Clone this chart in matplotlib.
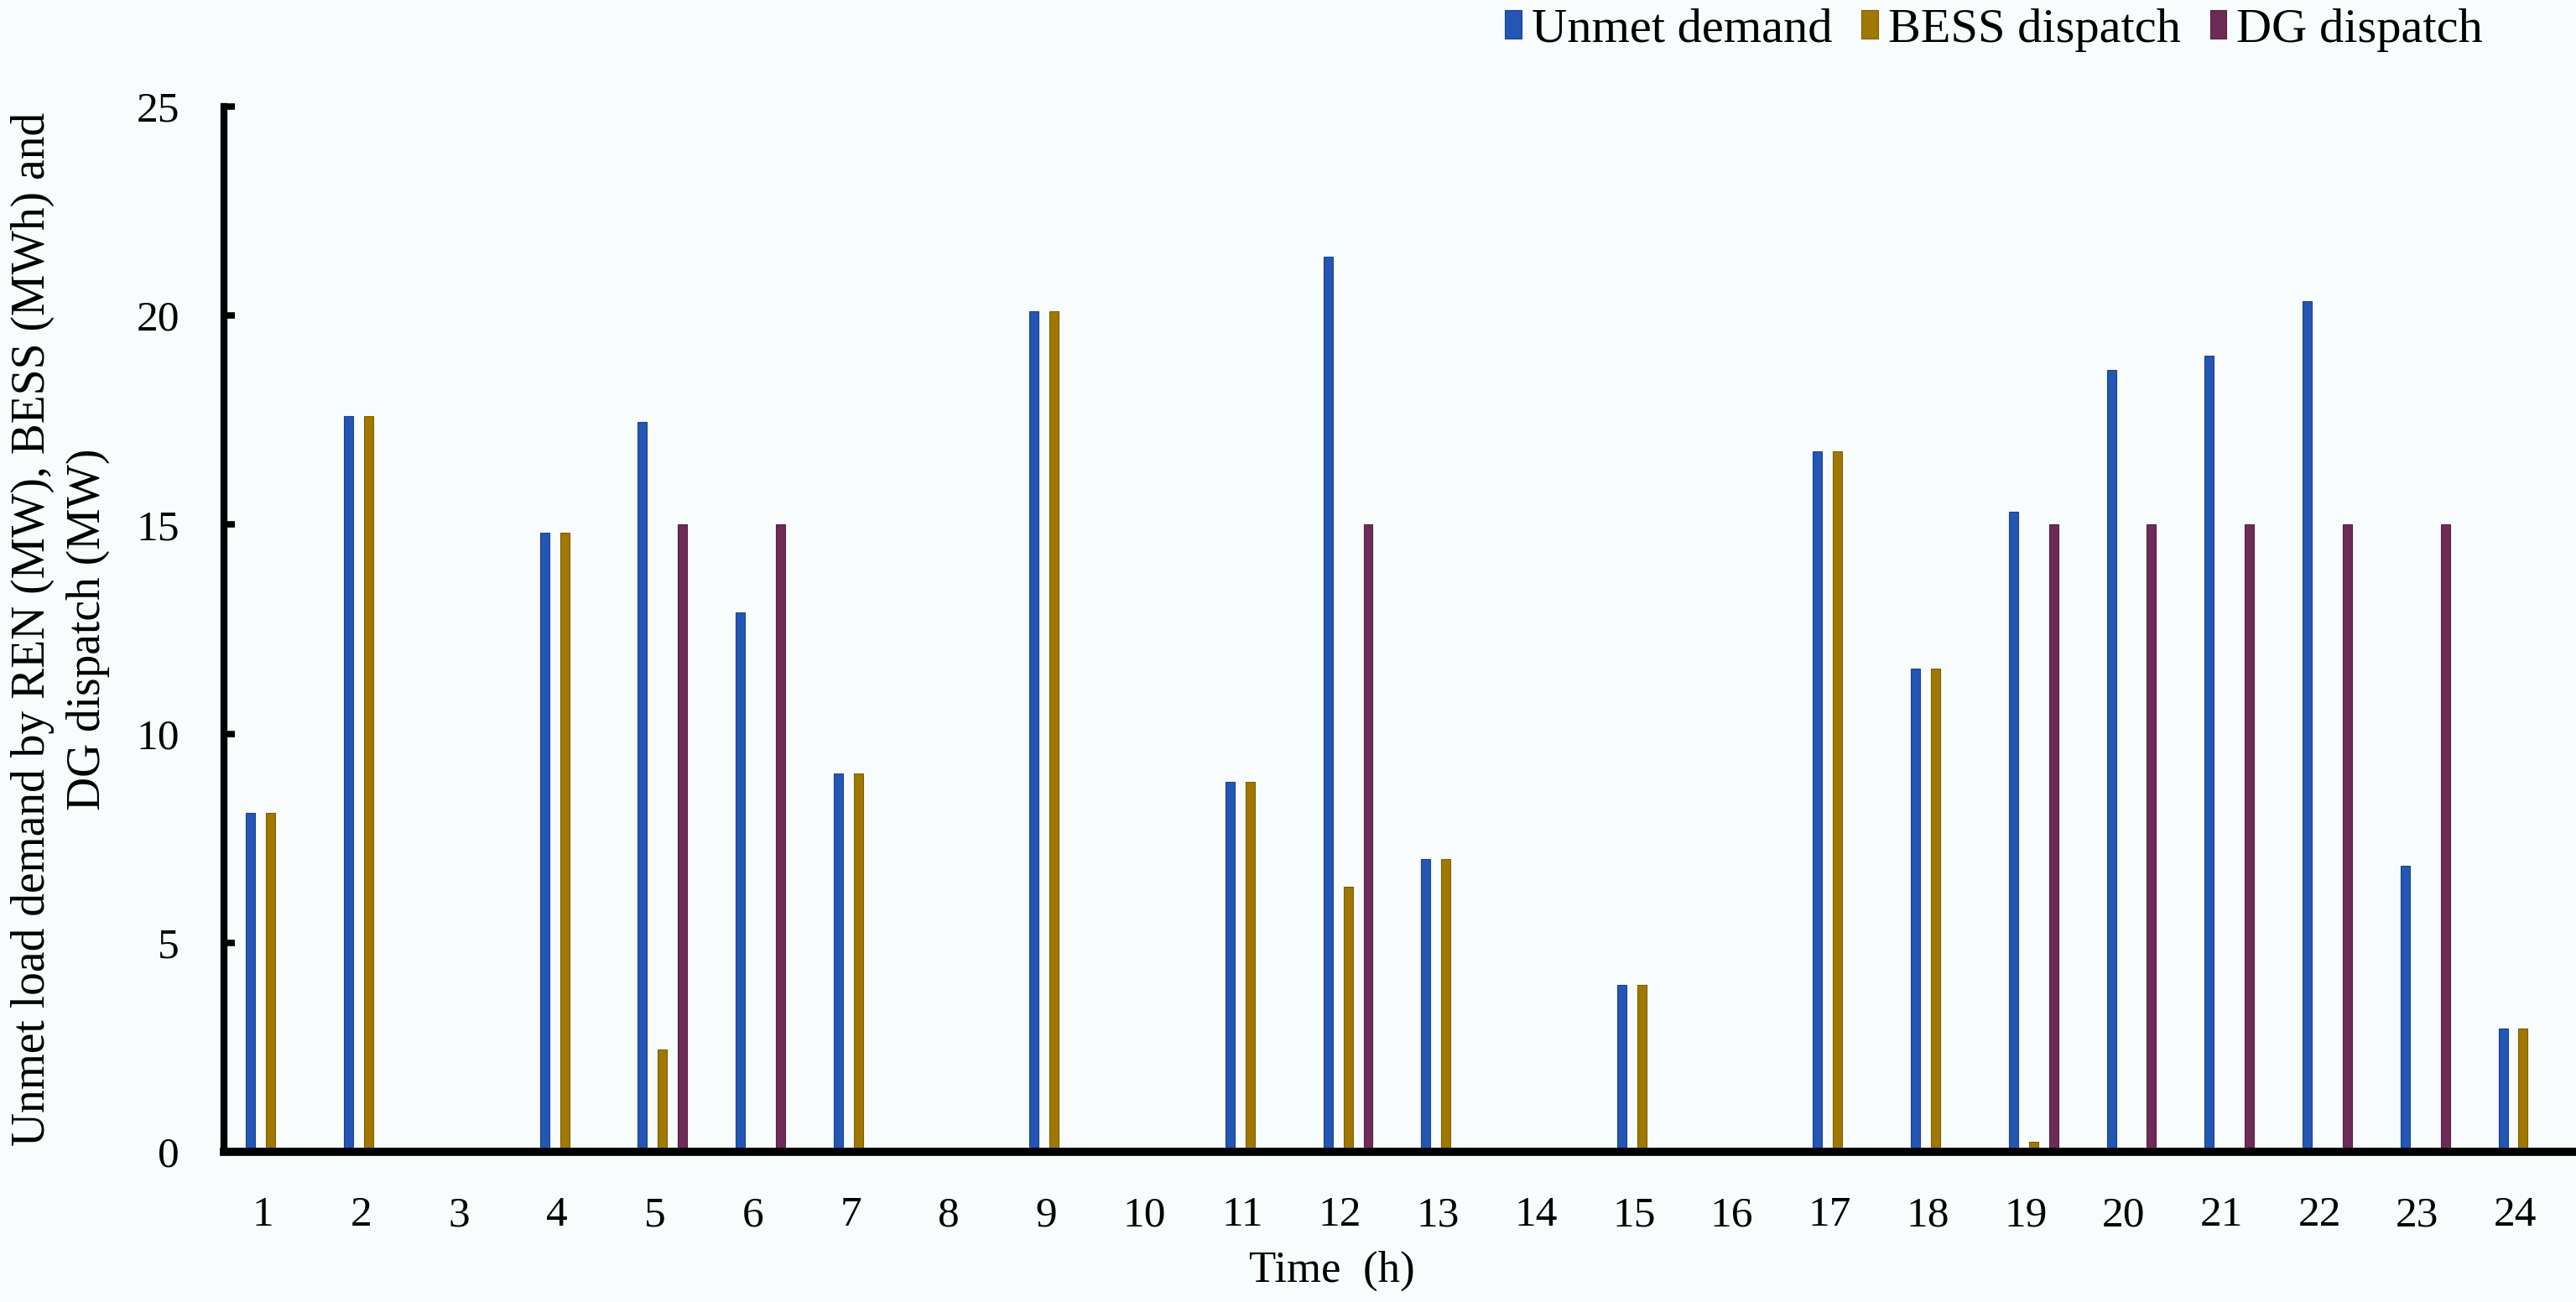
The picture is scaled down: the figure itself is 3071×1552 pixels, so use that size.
import matplotlib
matplotlib.use("Agg")
import matplotlib.pyplot as plt
import numpy as np

plt.rcParams['font.family'] = ['Liberation Serif', 'DejaVu Serif']

hours = list(range(1, 25))
unmet = [8.1, 17.6, 0, 14.8, 17.45, 12.9, 9.05, 0, 20.1, 0, 8.85, 21.4,
         7.0, 0, 4.0, 0, 16.75, 11.55, 15.3, 18.7, 19.05, 20.35, 6.85, 2.95]
bess = [8.1, 17.6, 0, 14.8, 2.45, 0, 9.05, 0, 20.1, 0, 8.85, 6.35,
        7.0, 0, 4.0, 0, 16.75, 11.55, 0.25, 0, 0, 0, 0, 2.95]
dg = [0, 0, 0, 0, 15, 15, 0, 0, 0, 0, 0, 15,
      0, 0, 0, 0, 0, 0, 15, 15, 15, 15, 15, 0]
series_names = ["Unmet demand", "BESS dispatch", "DG dispatch"]
colors = ["#2456b4", "#a07800", "#6e2b58"]
edge_colors = ["#1a428f", "#7d5e00", "#561f44"]
y_ticks = [0, 5, 10, 15, 20, 25]

bg = "#f8fcfd"
fig = plt.figure(figsize=(30.71, 15.52), dpi=100, facecolor=bg)
ax = fig.add_axes([0.0869, 0.1153, 0.9131, 0.8029], facecolor=bg)

x = np.array(hours, dtype=float)
w = 0.094
offsets = [-0.125, 0.08, 0.285]
for vals, off, c, ec, name in zip([unmet, bess, dg], offsets, colors, edge_colors, series_names):
    ax.bar(x + off, vals, width=w, color=c, edgecolor=ec, linewidth=0.8, label=name, zorder=2)

ax.set_xlim(0.6, 24.62)
ax.set_ylim(0, 25)
ax.set_xticks(hours)
ax.set_xticklabels([str(h) for h in hours])
ax.set_yticks(y_ticks)
ax.set_yticklabels([str(v) for v in y_ticks])

for s in ["top", "right"]:
    ax.spines[s].set_visible(False)
ax.spines["left"].set_linewidth(6)
ax.spines["bottom"].set_linewidth(7)
ax.spines["left"].set_capstyle("projecting")
ax.spines["bottom"].set_capstyle("projecting")

ax.tick_params(axis="y", direction="in", length=9, width=5.5, labelsize=37, pad=38)
ax.tick_params(axis="x", length=0, labelsize=37, pad=38)

ax.set_xlabel("Time  (h)", fontsize=38)
ax.xaxis.set_label_coords(0.471, -0.114)
ax.xaxis.label.set_verticalalignment("center")

ax.set_ylabel("Unmet load demand by REN (MW), BESS (MWh) and\nDG dispatch (MW)",
              fontsize=40, linespacing=1.35, ha="center", va="center")
ax.yaxis.set_label_coords(-0.0695, 0.5)

fig.legend(loc="center", bbox_to_anchor=(0.774, 0.977), ncol=3, frameon=False,
           fontsize=42, handlelength=0.34, handleheight=0.5, handletextpad=0.2,
           columnspacing=0.6, borderpad=0.1)

fig.savefig("out.png", dpi=100, facecolor=bg)
